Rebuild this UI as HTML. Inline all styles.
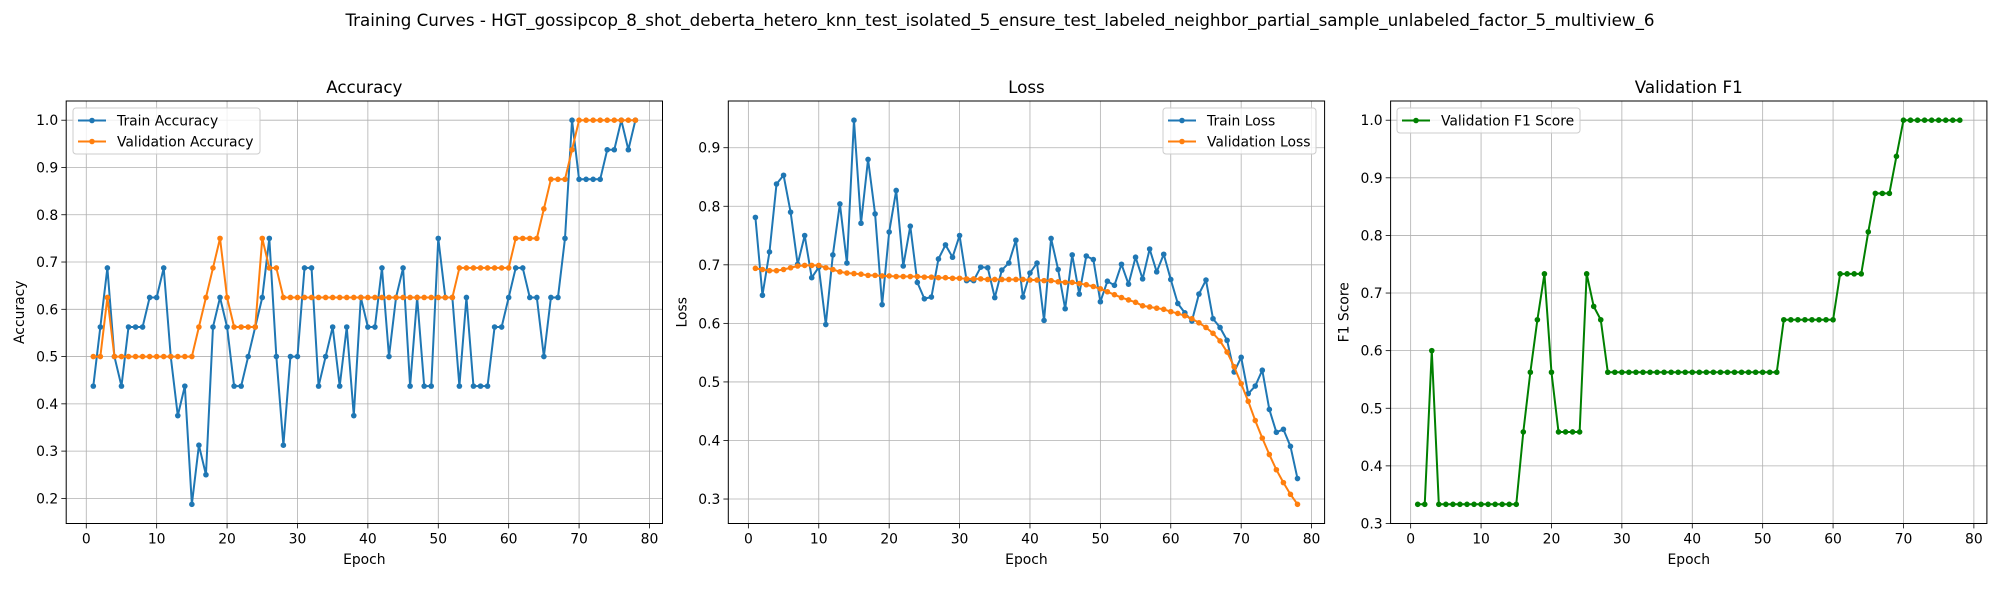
<!DOCTYPE html>
<html><head><meta charset="utf-8"><style>
html,body{margin:0;padding:0;background:#fff;}
svg{display:block;font-family:"DejaVu Sans","Liberation Sans",sans-serif;}
</style></head><body>
<svg id="fig" width="2000" height="600" viewBox="0 0 2000 600" xmlns="http://www.w3.org/2000/svg">
<rect width="2000" height="600" fill="#fff"/>
<text x="1000" y="26" text-anchor="middle" font-size="16.7">Training Curves - HGT_gossipcop_8_shot_deberta_hetero_knn_test_isolated_5_ensure_test_labeled_neighbor_partial_sample_unlabeled_factor_5_multiview_6</text>
</svg>
<script>
const epochs = Array.from({length:78},(_,i)=>i+1);
const trainAcc = [0.4375,0.5625,0.6875,0.5,0.4375,0.5625,0.5625,0.5625,0.625,0.625,0.6875,0.5,0.375,0.4375,0.1875,0.3125,0.25,0.5625,0.625,0.5625,0.4375,0.4375,0.5,0.5625,0.625,0.75,0.5,0.3125,0.5,0.5,0.6875,0.6875,0.4375,0.5,0.5625,0.4375,0.5625,0.375,0.625,0.5625,0.5625,0.6875,0.5,0.625,0.6875,0.4375,0.625,0.4375,0.4375,0.75,0.625,0.625,0.4375,0.625,0.4375,0.4375,0.4375,0.5625,0.5625,0.625,0.6875,0.6875,0.625,0.625,0.5,0.625,0.625,0.75,1.0,0.875,0.875,0.875,0.875,0.9375,0.9375,1.0,0.9375,1.0];
const valAcc = [0.5,0.5,0.625,0.5,0.5,0.5,0.5,0.5,0.5,0.5,0.5,0.5,0.5,0.5,0.5,0.5625,0.625,0.6875,0.75,0.625,0.5625,0.5625,0.5625,0.5625,0.75,0.6875,0.6875,0.625,0.625,0.625,0.625,0.625,0.625,0.625,0.625,0.625,0.625,0.625,0.625,0.625,0.625,0.625,0.625,0.625,0.625,0.625,0.625,0.625,0.625,0.625,0.625,0.625,0.6875,0.6875,0.6875,0.6875,0.6875,0.6875,0.6875,0.6875,0.75,0.75,0.75,0.75,0.8125,0.875,0.875,0.875,0.9375,1,1,1,1,1,1,1,1,1];
const trainLoss = [0.781,0.648,0.722,0.838,0.853,0.790,0.701,0.750,0.678,0.696,0.598,0.717,0.804,0.703,0.947,0.771,0.880,0.787,0.632,0.756,0.827,0.698,0.766,0.670,0.642,0.645,0.710,0.734,0.713,0.750,0.673,0.673,0.696,0.695,0.644,0.691,0.703,0.742,0.645,0.686,0.703,0.605,0.745,0.692,0.625,0.717,0.650,0.715,0.709,0.637,0.672,0.665,0.701,0.667,0.713,0.676,0.727,0.688,0.718,0.675,0.634,0.618,0.604,0.650,0.674,0.608,0.593,0.571,0.517,0.542,0.480,0.493,0.520,0.453,0.414,0.419,0.390,0.335];
const valLoss = [0.694,0.692,0.690,0.690,0.692,0.695,0.698,0.699,0.699,0.699,0.695,0.692,0.688,0.686,0.685,0.684,0.682,0.682,0.681,0.681,0.680,0.680,0.680,0.680,0.679,0.679,0.678,0.678,0.677,0.677,0.676,0.676,0.676,0.675,0.675,0.675,0.675,0.675,0.675,0.674,0.674,0.673,0.673,0.671,0.670,0.670,0.668,0.666,0.663,0.659,0.654,0.649,0.644,0.640,0.636,0.630,0.628,0.626,0.624,0.620,0.617,0.613,0.608,0.601,0.593,0.583,0.570,0.551,0.526,0.497,0.467,0.434,0.404,0.376,0.350,0.328,0.308,0.291];
const valF1 = [0.3333,0.3333,0.6,0.3333,0.3333,0.3333,0.3333,0.3333,0.3333,0.3333,0.3333,0.3333,0.3333,0.3333,0.3333,0.4589,0.5625,0.6536,0.7333,0.5625,0.4589,0.4589,0.4589,0.4589,0.7333,0.6768,0.6536,0.5625,0.5625,0.5625,0.5625,0.5625,0.5625,0.5625,0.5625,0.5625,0.5625,0.5625,0.5625,0.5625,0.5625,0.5625,0.5625,0.5625,0.5625,0.5625,0.5625,0.5625,0.5625,0.5625,0.5625,0.5625,0.6536,0.6536,0.6536,0.6536,0.6536,0.6536,0.6536,0.6536,0.7333,0.7333,0.7333,0.7333,0.8061,0.873,0.873,0.873,0.9373,1,1,1,1,1,1,1,1,1];
const xTicks = [0,10,20,30,40,50,60,70,80];
const accTicks = [0.2,0.3,0.4,0.5,0.6,0.7,0.8,0.9,1.0];
const lossTicks = [0.3,0.4,0.5,0.6,0.7,0.8,0.9];
const f1Ticks = [0.3,0.4,0.5,0.6,0.7,0.8,0.9,1.0];

const NS="http://www.w3.org/2000/svg";
const fig=document.getElementById('fig');
function mk(tag,attrs,parent){const e=document.createElementNS(NS,tag);for(const k in attrs)e.setAttribute(k,attrs[k]);(parent||fig).appendChild(e);return e;}

function panel(o){
  const L=o.left,R=o.left+596.3,T=101,B=523.5;
  const g=mk('g',{});
  
  
  const all=[].concat(...o.series.map(s=>s.data));
  let mn=Math.min(...all),mx=Math.max(...all);const m=(mx-mn)*0.05;mn-=m;mx+=m;
  const xmn=1-77*0.05,xmx=78+77*0.05;
  const sx=v=>L+(v-xmn)/(xmx-xmn)*(R-L);
  const sy=v=>B-(v-mn)/(mx-mn)*(B-T);
  xTicks.forEach(t=>{const x=sx(t);
    const gl=mk('line',{x1:x,x2:x,y1:T,y2:B,stroke:'#b0b0b0','stroke-width':0.8},g);
    
    
    mk('line',{x1:x,x2:x,y1:B,y2:B+4.9,stroke:'#000','stroke-width':0.8},g);
    const tx=mk('text',{x:x,y:B+20,'text-anchor':'middle','font-size':13.9},g);tx.textContent=t;
    
    
  });
  o.ticks.forEach(t=>{const y=sy(t);
    const gl=mk('line',{x1:L,x2:R,y1:y,y2:y,stroke:'#b0b0b0','stroke-width':0.8},g);
    
    
    mk('line',{x1:L-4.9,x2:L,y1:y,y2:y,stroke:'#000','stroke-width':0.8},g);
    const tx=mk('text',{x:L-8,y:y+5,'text-anchor':'end','font-size':13.9},g);tx.textContent=t.toFixed(1);
    
    
  });
  o.series.forEach(s=>{
    const pts=s.data.map((v,i)=>sx(epochs[i]).toFixed(2)+','+sy(v).toFixed(2)).join(' ');
    const sg=mk('g',{},g);
    
    
    mk('polyline',{points:pts,fill:'none',stroke:s.color,'stroke-width':2,'stroke-linejoin':'round'},sg);
    s.data.forEach((v,i)=>{const c=mk('circle',{cx:sx(epochs[i]),cy:sy(v),r:2.8,fill:s.color},sg);
      
      
    });
  });
  mk('rect',{x:L,y:T,width:R-L,height:B-T,fill:'none',stroke:'#000','stroke-width':1},g);
  const ti=mk('text',{x:(L+R)/2,y:T-8,'text-anchor':'middle','font-size':16.7},g);ti.textContent=o.title;
  
  
  const xl=mk('text',{x:(L+R)/2,y:564,'text-anchor':'middle','font-size':13.9},g);xl.textContent='Epoch';
  
  
  const yx=L-42,yy=(T+B)/2;
  const yl=mk('text',{x:yx,y:yy,'text-anchor':'middle','font-size':13.9,transform:`rotate(-90 ${yx} ${yy})`},g);yl.textContent=o.ylabel;
  
  
  const lg=mk('g',{},g);
  
  
  const lx=o.legX,ly=108,lh=o.series.length===2?46:25;
  mk('rect',{x:lx,y:ly,width:o.legW,height:lh,rx:3,fill:'#fff','fill-opacity':0.8,stroke:'#ccc','stroke-width':1},lg);
  o.series.forEach((s,i)=>{const yy2=ly+12.5+i*21;
    const e=mk('g',{},lg);
    
    
    mk('line',{x1:lx+5,x2:lx+33,y1:yy2,y2:yy2,stroke:s.color,'stroke-width':2},e);
    mk('circle',{cx:lx+19,cy:yy2,r:2.8,fill:s.color},e);
    const t=mk('text',{x:lx+44,y:yy2+5,'font-size':13.9},e);t.textContent=s.label;
  });
}
panel({name:'accuracy',left:66.2,title:'Accuracy',ylabel:'Accuracy',ticks:accTicks,legX:73,legW:187,
  series:[{id:'train-accuracy',label:'Train Accuracy',data:trainAcc,color:'#1f77b4'},{id:'validation-accuracy',label:'Validation Accuracy',data:valAcc,color:'#ff7f0e'}]});
panel({name:'loss',left:728.3,title:'Loss',ylabel:'Loss',ticks:lossTicks,legX:1163,legW:153,
  series:[{id:'train-loss',label:'Train Loss',data:trainLoss,color:'#1f77b4'},{id:'validation-loss',label:'Validation Loss',data:valLoss,color:'#ff7f0e'}]});
panel({name:'validation-f1',left:1390.6,title:'Validation F1',ylabel:'F1 Score',ticks:f1Ticks,legX:1397,legW:183,
  series:[{id:'validation-f1',label:'Validation F1 Score',data:valF1,color:'#008000'}]});
</script>
</body></html>
